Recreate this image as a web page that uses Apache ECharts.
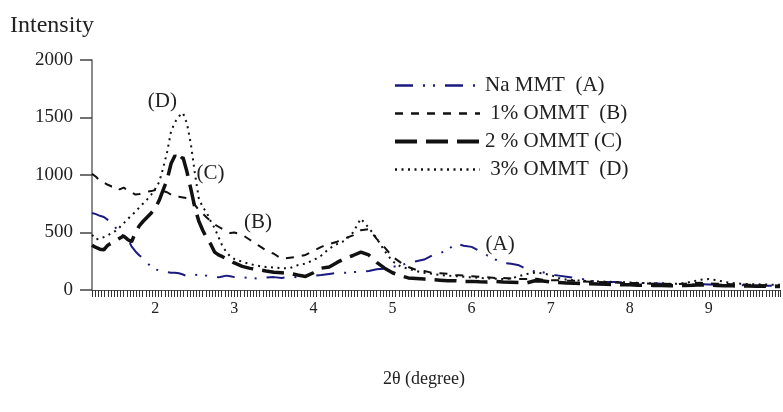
<!DOCTYPE html>
<html>
<head>
<meta charset="utf-8">
<script src="https://cdn.jsdelivr.net/npm/echarts@6/dist/echarts.min.js"></script>
<style>
  html, body { margin: 0; padding: 0; background: #fff; }
  #chart { width: 783px; height: 412px; }
</style>
</head>
<body>
<div id="chart"></div>
<script>
// 2theta positions (degree)
var twoTheta = [
  1.2, 1.25, 1.3, 1.35, 1.4, 1.45, 1.5, 1.55, 1.6, 1.65, 1.7, 1.75, 1.8, 1.85, 1.9, 1.95,
  2.0, 2.05, 2.1, 2.15, 2.2, 2.25, 2.3, 2.35, 2.4, 2.45, 2.5, 2.55, 2.6, 2.65, 2.7, 2.75,
  2.8, 2.85, 2.9, 2.95, 3.0,
  3.1, 3.2, 3.3, 3.4, 3.5, 3.6, 3.7, 3.8, 3.9, 4.0,
  4.1, 4.2, 4.3, 4.4, 4.5, 4.6, 4.7, 4.8, 4.9, 5.0,
  5.1, 5.2, 5.3, 5.4, 5.5, 5.6, 5.7, 5.8, 5.9, 6.0,
  6.1, 6.2, 6.3, 6.4, 6.5, 6.6, 6.7, 6.8, 6.9, 7.0,
  7.1, 7.2, 7.3, 7.4, 7.5, 7.6, 7.7, 7.8, 7.9, 8.0,
  8.1, 8.2, 8.3, 8.4, 8.5, 8.6, 8.7, 8.8, 8.9, 9.0,
  9.1, 9.2, 9.3, 9.4, 9.5, 9.6, 9.7, 9.8, 9.9
];

// Na MMT (A)
var naMMT = [
  670, 660, 645, 635, 610, 590, 540, 500, 470, 445, 380, 335, 300, 275, 235, 200,
  180, 170, 160, 155, 150, 150, 145, 135, 120, 125, 130, 135, 130, 125, 120, 115,
  110, 118, 125, 120, 112,
  110, 105, 100, 108, 112, 105, 115, 110, 118, 125,
  130, 140, 150, 150, 155, 160, 165, 180, 185, 200,
  215, 235, 250, 265, 300, 320, 350, 405, 385, 375,
  340, 300, 265, 235, 228, 215, 180, 160, 155, 135,
  125, 115, 105, 95, 80, 72, 70, 70, 65, 62,
  60, 60, 58, 55, 52, 50, 50, 48, 50, 48,
  45, 45, 42, 42, 40, 40, 38, 38, 36
];

// 1% OMMT (B)
var ommt1 = [
  1010, 985, 950, 935, 915, 900, 905, 875, 890, 870, 850, 830, 835, 845, 855, 860,
  870, 865, 860, 850, 830, 810, 810, 805, 800, 780, 740, 695, 665, 630, 600, 570,
  550, 530, 510, 495, 500,
  480, 435, 390, 345, 315, 270, 280, 290, 305, 340,
  375, 400, 420, 450, 475, 520, 530, 445, 370, 290,
  240, 200, 175, 165, 150, 145, 140, 130, 125, 120,
  115, 110, 105, 105, 100, 95, 95, 100, 90, 85,
  85, 80, 80, 75, 72, 70, 68, 65, 62, 60,
  60, 58, 55, 55, 52, 50, 55, 60, 62, 58,
  55, 52, 50, 48, 45, 45, 42, 40, 40
];

// 2 % OMMT (C)
var ommt2 = [
  390, 370, 355, 350, 390, 410, 430, 450, 470, 440, 420, 500, 560, 600, 635, 670,
  710, 780, 870, 960, 1100, 1170, 1120, 1155, 1030, 880, 720, 600, 520, 450, 400, 330,
  305, 290, 270, 255, 235,
  205, 188, 178, 165, 155, 150, 145, 130, 118, 150,
  190, 200, 240, 275, 300, 330, 305, 240, 190, 150,
  125, 105, 100, 95, 90, 85, 80, 80, 75, 75,
  72, 70, 75, 70, 68, 65, 62, 80, 78, 70,
  65, 60, 58, 55, 55, 52, 50, 48, 45, 45,
  42, 42, 40, 40, 38, 38, 40, 42, 45, 42,
  40, 38, 36, 35, 35, 33, 32, 30, 30
];

// 3% OMMT (D)
var ommt3 = [
  480, 440, 445, 460, 475, 495, 515, 545, 580, 615, 650, 680, 720, 755, 790, 830,
  880, 940, 1060, 1200, 1380, 1460, 1510, 1540, 1450, 1270, 1020, 800, 720, 675, 600, 540,
  460, 380, 330, 290, 270,
  245, 225, 210, 200, 195, 190, 190, 215, 230, 260,
  300, 360, 400, 430, 500, 620, 540, 450, 340, 250,
  205, 185, 165, 150, 140, 130, 125, 120, 115, 110,
  105, 100, 98, 95, 100, 120, 140, 150, 145, 130,
  105, 90, 85, 80, 78, 75, 72, 70, 68, 65,
  62, 60, 58, 58, 55, 55, 60, 75, 90, 95,
  85, 70, 60, 55, 52, 50, 48, 46, 45
];

var seriesNames = ['Na MMT  (A)', ' 1% OMMT  (B)', '2 % OMMT (C)', ' 3% OMMT  (D)'];
var peakTags = ['(A)', '(B)', '(C)', '(D)'];
var tagPos = [[6.36, 400], [3.30, 583], [2.70, 1009], [2.09, 1635]];
var yTicks = [0, 500, 1000, 1500, 2000];

var serif = "'Liberation Serif', 'DejaVu Serif', serif";

function pairs(ys) {
  var out = [];
  for (var i = 0; i < twoTheta.length; i++) out.push([twoTheta[i], ys[i]]);
  return out;
}

function tag(i) {
  return {
    symbol: 'circle',
    symbolSize: 1,
    itemStyle: { color: 'rgba(0,0,0,0)' },
    label: { show: true, position: 'inside', formatter: peakTags[i], color: '#222', fontFamily: serif, fontSize: 21 },
    data: [{ coord: tagPos[i] }]
  };
}

var chart = echarts.init(document.getElementById('chart'));

var option = {
  animation: false,
  grid: { left: 92, right: 0, top: 60, bottom: 122 },
  legend: {
    orient: 'vertical',
    left: 388,
    top: 70,
    itemWidth: 85,
    itemHeight: 14,
    itemGap: 7,
    itemStyle: { opacity: 0 },
    textStyle: { fontFamily: serif, fontSize: 21, color: '#222', lineHeight: 21 },
    data: [
      { name: seriesNames[0], lineStyle: { width: 2.5, type: [18, 10, 2, 8, 2, 10] } },
      { name: seriesNames[1], lineStyle: { width: 2.5, type: [8, 8] } },
      { name: seriesNames[2], lineStyle: { width: 4, type: [22, 9] } },
      { name: seriesNames[3], lineStyle: { width: 2.5, type: [2, 4.5] } }
    ]
  },
  graphic: [
    { type: 'text', left: 10, top: 14, style: { text: 'Intensity', font: "24px 'Liberation Serif', serif", fill: '#222' } }
  ],
  xAxis: {
    type: 'value',
    min: 1.2,
    max: 9.9,
    interval: 0.2,
    name: '2θ (degree)',
    nameLocation: 'middle',
    nameGap: 80,
    nameTextStyle: { fontFamily: serif, fontSize: 18, color: '#222', padding: [0, 24, 0, 0] },
    axisLine: { lineStyle: { color: '#555', width: 1 } },
    axisTick: { show: true, length: 7, lineStyle: { color: '#333', width: 1 } },
    minorTick: { show: true, splitNumber: 5, length: 7, lineStyle: { color: '#333', width: 1 } },
    axisLabel: {
      margin: 11,
      fontFamily: serif,
      fontSize: 16,
      color: '#222',
      formatter: function (v) {
        return Math.abs(v - Math.round(v)) < 1e-6 && v > 1.5 && v < 9.5 ? String(Math.round(v)) : '';
      }
    },
    splitLine: { show: false },
    minorSplitLine: { show: false }
  },
  yAxis: {
    type: 'value',
    min: yTicks[0],
    max: yTicks[yTicks.length - 1],
    interval: 500,
    axisLine: { show: true, lineStyle: { color: '#666', width: 1.5 } },
    axisTick: { show: true, length: 12, lineStyle: { color: '#444', width: 1.5 } },
    axisLabel: {
      margin: 19, fontFamily: serif, fontSize: 19, color: '#222',
      formatter: function (v) { return String(v); }
    },
    splitLine: { show: false }
  },
  series: [
    {
      name: seriesNames[0], type: 'line', symbol: 'none', data: pairs(naMMT),
      lineStyle: { color: '#1a1a80', width: 2, type: [18, 10, 2, 8, 2, 10] },
      itemStyle: { color: '#1a1a80' },
      markPoint: tag(0), z: 2
    },
    {
      name: seriesNames[1], type: 'line', symbol: 'none', data: pairs(ommt1),
      lineStyle: { color: '#111', width: 2, type: [8, 8] },
      itemStyle: { color: '#111' },
      markPoint: tag(1), z: 3
    },
    {
      name: seriesNames[2], type: 'line', symbol: 'none', data: pairs(ommt2),
      lineStyle: { color: '#111', width: 3.5, type: [22, 9] },
      itemStyle: { color: '#111' },
      markPoint: tag(2), z: 4
    },
    {
      name: seriesNames[3], type: 'line', symbol: 'none', data: pairs(ommt3),
      lineStyle: { color: '#111', width: 2, type: [2, 4.5] },
      itemStyle: { color: '#111' },
      markPoint: tag(3), z: 5
    }
  ]
};

chart.setOption(option);
</script>
</body>
</html>
